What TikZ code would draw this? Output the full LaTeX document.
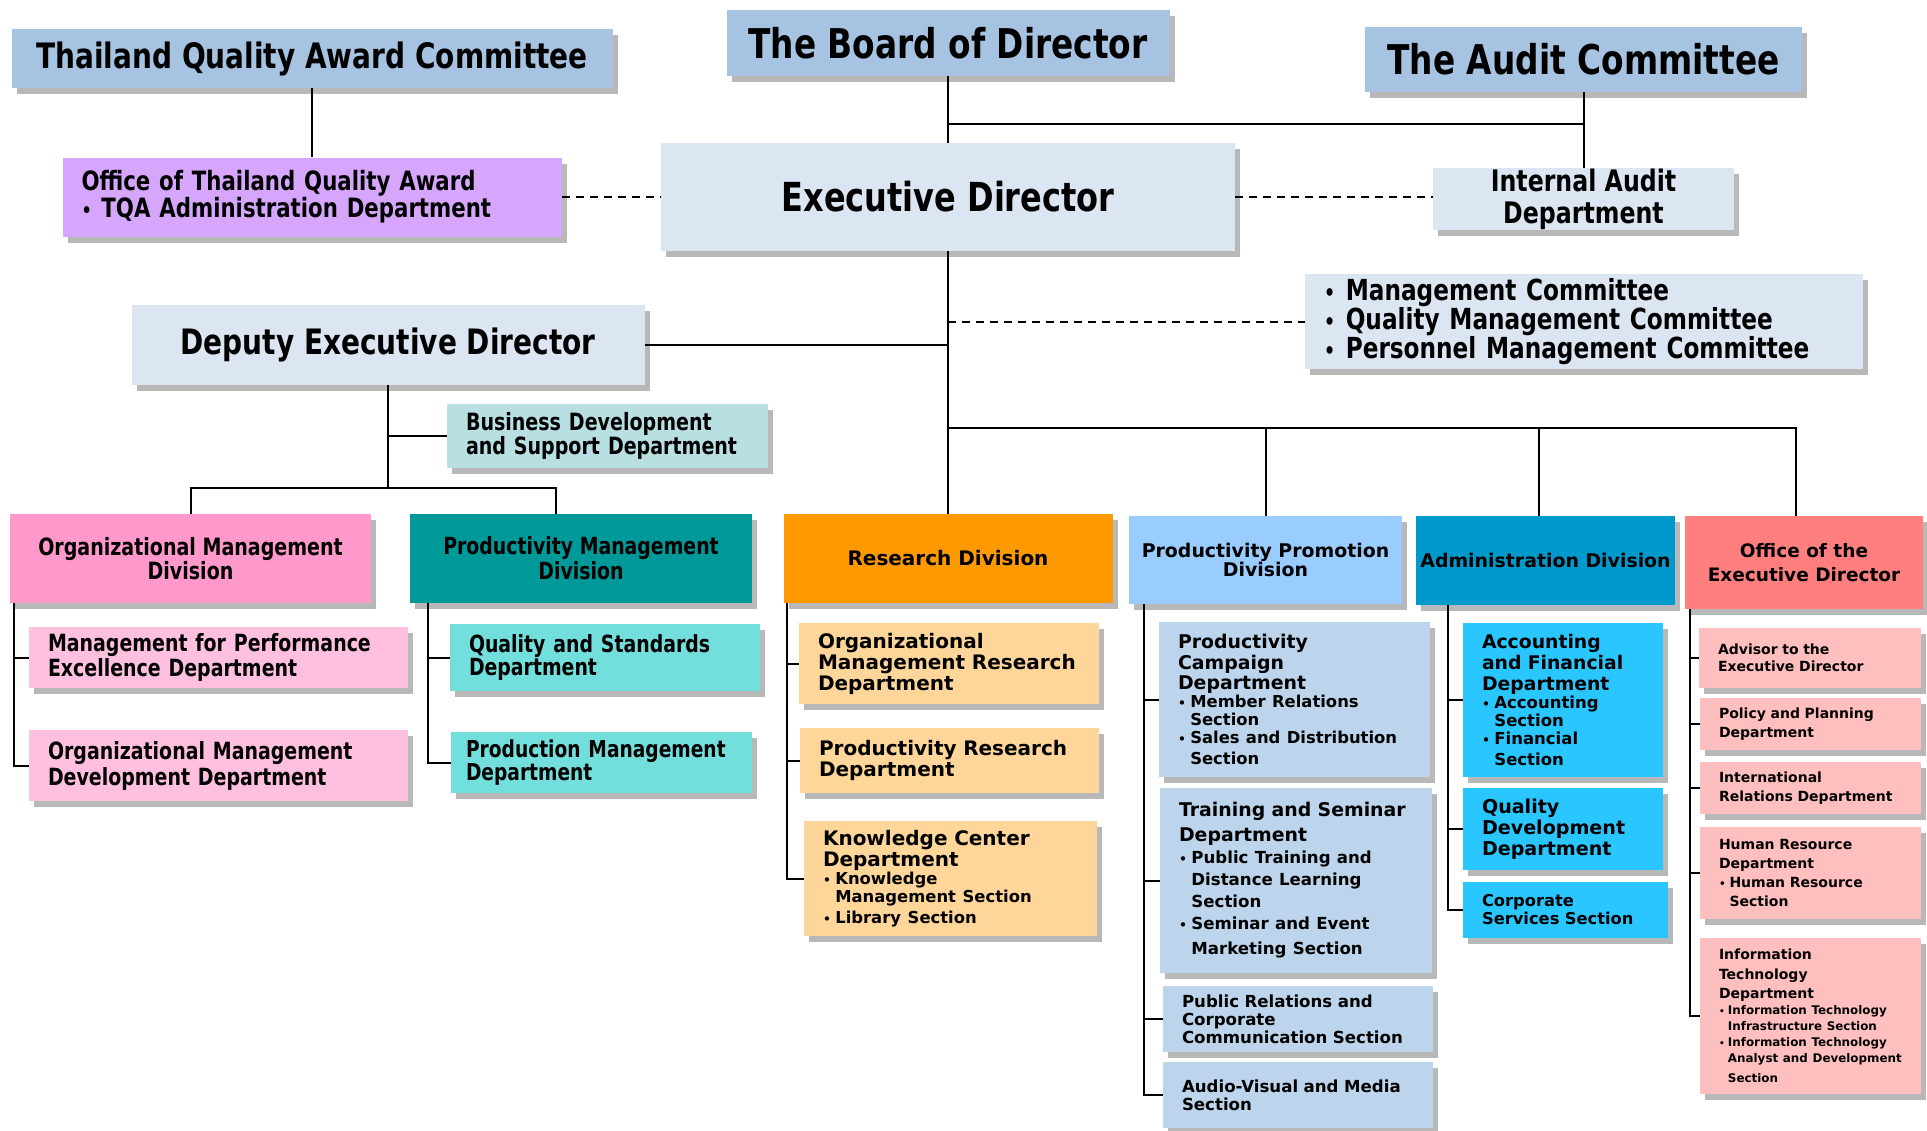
\documentclass[tikz,border=0pt]{standalone}
\usepackage{fontspec}
\usepackage{graphicx}
\setmainfont{DejaVu Sans}
\newfontfamily\tahoma[FakeStretch=0.8]{DejaVu Sans}
\usetikzlibrary{shadows}
\setlength{\parindent}{0pt}
\hyphenpenalty=10000
\exhyphenpenalty=10000

\definecolor{topblue}{HTML}{A6C3E1}
\definecolor{paleblue}{HTML}{DCE6F2}
\definecolor{tqapurple}{HTML}{D5A6FB}
\definecolor{bizteal}{HTML}{B8E0E3}
\definecolor{divpink}{HTML}{FF99CC}
\definecolor{lightpink}{HTML}{FFC0E0}
\definecolor{divteal}{HTML}{009999}
\definecolor{aqua}{HTML}{73DFDC}
\definecolor{resorange}{HTML}{FF9900}
\definecolor{peach}{HTML}{FFD699}
\definecolor{skyblue}{HTML}{99CCFF}
\definecolor{ppblue}{HTML}{BDD5EC}
\definecolor{admblue}{HTML}{0099CC}
\definecolor{admcyan}{HTML}{29C6FF}
\definecolor{oedred}{HTML}{FF7F7F}
\definecolor{oedpink}{HTML}{FFBFBF}

\newcommand{\tfnt}[2]{\tahoma\bfseries\fontsize{#1}{#2}\selectfont}
\newcommand{\vfnt}[2]{\bfseries\fontsize{#1}{#2}\selectfont}
\newcommand{\bul}{\makebox[0.75em][l]{\scalebox{0.75}{\textbullet}}}
\newcommand{\ind}{\hspace*{0.75em}}

\tikzstyle{Box}=[rectangle, inner xsep=19pt, inner ysep=0pt, align=center, drop shadow={shadow xshift=5pt, shadow yshift=-6pt, fill=black!28, opacity=1}]
\tikzstyle{Link}=[line width=2pt]
\tikzstyle{DashLink}=[Link, dash pattern=on 8pt off 6pt]

\begin{document}
\begin{tikzpicture}[x=1pt, y=-1pt]
    \useasboundingbox (0,0) rectangle (1927,1130);
    % board level
    \path
    (312,58.5) node[Box, fill=topblue, minimum width=601pt, minimum height=59pt, font=\tfnt{35}{40}] (tqac) {Thailand Quality Award Committee}
    (948,43) node[Box, fill=topblue, minimum width=443pt, minimum height=66pt, font=\tfnt{41}{46}] (board) {The Board of Director}
    (1583.5,59.5) node[Box, fill=topblue, minimum width=437pt, minimum height=65pt, font=\tfnt{41}{46}] (audit) {The Audit Committee}
    (312,197) node[Box, fill=tqapurple, minimum height=79pt, text width=461pt, align=left, font=\tfnt{26.6}{23}] (otqa) {Office of Thailand Quality Award\\\bul TQA Administration Department}
    (948,197) node[Box, fill=paleblue, minimum width=574pt, minimum height=108pt, font=\tfnt{40}{46}] (exec) {Executive Director}
    (1583.5,199) node[Box, fill=paleblue, minimum width=301pt, minimum height=62pt, font=\tfnt{29.6}{32}] (intaud) {Internal Audit\\Department}
    (1584,321.5) node[Box, fill=paleblue, minimum height=95pt, text width=520pt, align=left, font=\tfnt{29}{26}] (comm) {\bul Management Committee\\\bul Quality Management Committee\\\bul Personnel Management Committee}
    (388,345) node[Box, fill=paleblue, minimum width=513pt, minimum height=80pt, font=\tfnt{35}{40}] (deputy) {Deputy Executive Director}
    (607.5,436) node[Box, fill=bizteal, minimum height=64pt, text width=283pt, align=left, font=\tfnt{23.8}{21}] (bizdev) {Business Development\\and Support Department};

    % divisions under the deputy
    \path
    (190.5,558.5) node[Box, fill=divpink, minimum width=361pt, minimum height=89pt, font=\tfnt{23.8}{18}] (omd) {Organizational Management\\Division}
    (581,558.5) node[Box, fill=divteal, minimum width=342pt, minimum height=89pt, font=\tfnt{23.6}{25}] (pmd) {Productivity Management\\Division}
    (218.5,657.5) node[Box, fill=lightpink, minimum height=61pt, text width=341pt, align=left, font=\tfnt{23.7}{21}] (mpe) {Management for Performance\\Excellence Department}
    (218.5,765.5) node[Box, fill=lightpink, minimum height=71pt, text width=341pt, align=left, font=\tfnt{23.7}{26}] (omdd) {Organizational Management\\Development Department}
    (605,657.5) node[Box, fill=aqua, minimum height=67pt, text width=272pt, align=left, font=\tfnt{23.6}{21}] (qsd) {Quality and Standards\\Department}
    (601.5,762.5) node[Box, fill=aqua, inner xsep=15pt, minimum height=61pt, text width=271pt, align=left, font=\tfnt{23.3}{21}] (prodmd) {Production Management\\Department};

    % research division
    \path
    (948,558.5) node[Box, fill=resorange, minimum width=329pt, minimum height=89pt, font=\vfnt{20}{24}] (resd) {Research Division}
    (949,663.5) node[Box, fill=peach, minimum height=81pt, text width=262pt, align=left, font=\vfnt{20}{21}] (omrd) {Organizational\\Management Research\\Department}
    (949.5,760.5) node[Box, fill=peach, minimum height=65pt, text width=261pt, align=left, font=\vfnt{20}{21}] (prd) {Productivity Research\\Department}
    (950.5,878.5) node[Box, fill=peach, minimum height=115pt, text width=255pt, align=left, font=\vfnt{20}{21}] (kcd) {Knowledge Center\\Department\par\vfnt{16.4}{18}\bul Knowledge\\\ind Management Section\\\bul Library Section};

    % productivity promotion division
    \path
    (1265.5,560) node[Box, fill=skyblue, inner xsep=3pt, minimum width=273pt, minimum height=88pt, font=\vfnt{18.9}{17}] (ppd) {Productivity Promotion\\Division}
    (1294.5,699.5) node[Box, fill=ppblue, minimum height=155pt, text width=233pt, align=left, font=\vfnt{18.9}{20.5}] (pcd) {Productivity\\Campaign\\Department\par\vfnt{16.4}{18}\bul Member Relations\\\ind Section\\\bul Sales and Distribution\\\ind Section}
    (1296,880.5) node[Box, fill=ppblue, minimum height=185pt, text width=234pt, align=left, font=\vfnt{18.9}{25}] (tsd) {Training and Seminar\\Department\par\vfnt{16.6}{22}\bul Public Training and\\\ind Distance Learning\\\ind Section\\\bul Seminar and Event\\\ind Marketing Section}
    (1298,1019) node[Box, fill=ppblue, minimum height=66pt, text width=232pt, align=left, font=\vfnt{16.6}{18}] (prcs) {Public Relations and\\Corporate\\Communication Section}
    (1298,1095) node[Box, fill=ppblue, minimum height=66pt, text width=232pt, align=left, font=\vfnt{16.6}{18}] (avms) {Audio-Visual and Media\\Section};

    % administration division
    \path
    (1545.5,560.5) node[Box, fill=admblue, inner xsep=3pt, minimum width=259pt, minimum height=89pt, font=\vfnt{18.9}{22}] (admd) {Administration Division}
    (1563,700) node[Box, fill=admcyan, minimum height=154pt, text width=162pt, align=left, font=\vfnt{18.8}{21}] (afd) {Accounting\\and Financial\\Department\par\vfnt{16.5}{18}\bul Accounting\\\ind Section\\\bul Financial\\\ind Section}
    (1563,829) node[Box, fill=admcyan, minimum height=82pt, text width=162pt, align=left, font=\vfnt{19.1}{21}] (qdd) {Quality\\Development\\Department}
    (1565.5,910) node[Box, fill=admcyan, minimum height=56pt, text width=167pt, align=left, font=\vfnt{16.3}{18}] (css) {Corporate\\Services Section};

    % office of the executive director
    \path
    (1804,562.5) node[Box, fill=oedred, minimum width=238pt, minimum height=93pt, font=\vfnt{18.5}{24}] (oed) {Office of the\\Executive Director}
    (1810,658) node[Box, fill=oedpink, minimum height=60pt, text width=184pt, align=left, font=\vfnt{14}{17}] (ated) {Advisor to the\\Executive Director}
    (1810.5,724) node[Box, fill=oedpink, minimum height=52pt, text width=183pt, align=left, font=\vfnt{14}{19}] (ppld) {Policy and Planning\\Department}
    (1810.5,788) node[Box, fill=oedpink, minimum height=52pt, text width=183pt, align=left, font=\vfnt{14}{19}] (ird) {International\\Relations Department}
    (1810.5,873) node[Box, fill=oedpink, minimum height=92pt, text width=183pt, align=left, font=\vfnt{14}{19}] (hrd) {Human Resource\\Department\\\bul Human Resource\\\ind Section}
    (1810.5,1016) node[Box, fill=oedpink, minimum height=156pt, text width=183pt, align=left, font=\vfnt{14}{19.5}] (itd) {Information\\Technology\\Department\par\vfnt{11.9}{16}\bul Information Technology\\\ind Infrastructure Section\\\bul Information Technology\\\ind Analyst and Development\\\ind Section};

    \coordinate (audj) at (948,124);
    \coordinate (divbar) at (948,428);
    \coordinate (depbar) at (388,488);
    \coordinate (pmdtop) at ([xshift=-25pt]pmd.north);
    \coordinate (admtop) at ([xshift=-6.5pt]admd.north);
    \coordinate (oedtop) at ([xshift=-8pt]oed.north);

    \draw[Link] (board) -- (exec);
    \draw[Link] (audj) -| (audit.south);
    \draw[Link] (audit) -- (intaud);
    \draw[Link] (tqac) -- (otqa);
    \draw[DashLink] (otqa) -- (exec);
    \draw[DashLink] (exec.east) -- (exec.east -| intaud.west);
    \draw[DashLink] (exec.south |- comm.west) -- (comm.west);
    \draw[Link] (exec) -- (resd);
    \draw[Link] (deputy.east) -- (deputy.east -| exec.south);
    \draw[Link] (divbar) -| (oedtop);
    \draw[Link] (divbar -| ppd.north) -- (ppd.north);
    \draw[Link] (divbar -| admtop) -- (admtop);
    \draw[Link] (deputy) -- (depbar);
    \draw[Link] (depbar |- bizdev.west) -- (bizdev.west);
    \draw[Link] (omd.north) |- (depbar) -| (pmdtop);

    % department trunks
    \coordinate (omdt) at ([xshift=4pt]omd.south west);
    \coordinate (pmdt) at ([xshift=18pt]pmd.south west);
    \coordinate (resdt) at ([xshift=4pt]resd.south west);
    \coordinate (ppdt) at ([xshift=15pt]ppd.south west);
    \coordinate (admdt) at ([xshift=32pt]admd.south west);
    \coordinate (oedt) at ([xshift=5pt]oed.south west);
    \draw[Link] (omdt) |- (mpe.west) (omdt) |- (omdd.west);
    \draw[Link] (pmdt) |- (qsd.west) (pmdt) |- (prodmd.west);
    \draw[Link] (resdt) |- (omrd.west) (resdt) |- (prd.west) (resdt) |- (kcd.west);
    \draw[Link] (ppdt) |- (pcd.west) (ppdt) |- (tsd.west) (ppdt) |- (prcs.west) (ppdt) |- (avms.west);
    \draw[Link] (admdt) |- (afd.west) (admdt) |- (qdd.west) (admdt) |- (css.west);
    \draw[Link] (oedt) |- (ated.west) (oedt) |- (ppld.west) (oedt) |- (ird.west) (oedt) |- (hrd.west) (oedt) |- (itd.west);
\end{tikzpicture}
\end{document}
